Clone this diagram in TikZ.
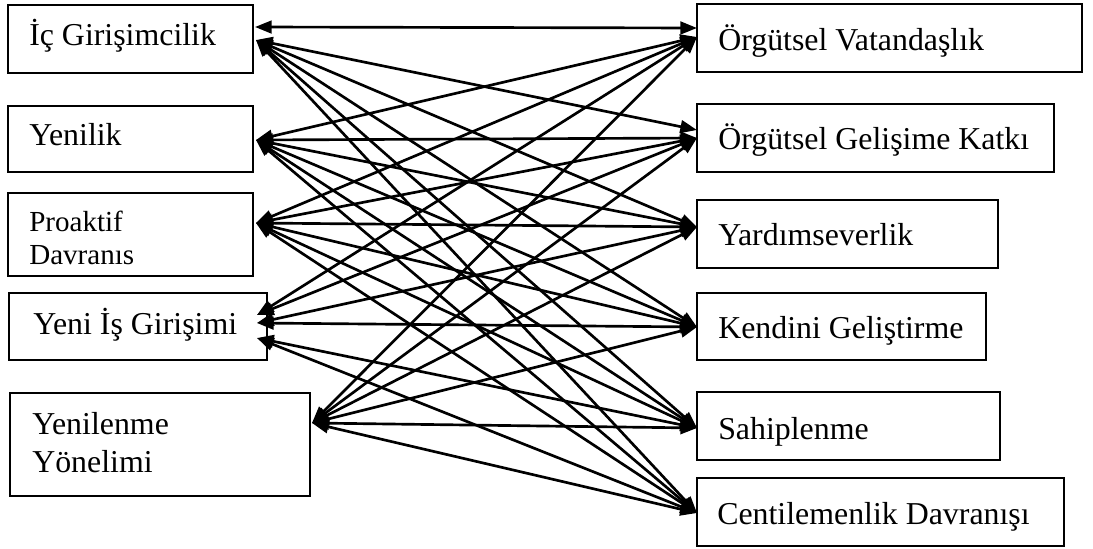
\documentclass[tikz,border=0pt]{standalone}
\usepackage{fontspec}
\setmainfont{Liberation Serif}
\usetikzlibrary{arrows.meta,fit}
\begin{document}
\begin{tikzpicture}[x=0.75pt,y=-0.75pt,
  box/.style={draw, line width=0.9pt, inner sep=0pt},
  txt/.style={anchor=base west, inner sep=0pt, font=\fontsize{23.9pt}{28pt}\selectfont},
  stxt/.style={anchor=base west, inner sep=0pt, font=\fontsize{21.8pt}{26pt}\selectfont},
  link/.style={line width=2pt, {Triangle[length=12.5pt,width=9.5pt]}-{Triangle[length=12.5pt,width=9.5pt]}}]
\useasboundingbox (0,0) rectangle (1093,549);

% left boxes
\node[box, fit={(8,5) (253,73)}] (l1) {};
\node[box, fit={(8,106) (253,172)}] (l2) {};
\node[box, fit={(8,193) (253,276)}] (l3) {};
\node[box, fit={(9,293) (267,360)}] (l4) {};
\node[box, fit={(10,393) (310,496)}] (l5) {};
% right boxes
\node[box, fit={(697,4) (1082,72)}] (r1) {};
\node[box, fit={(697,104) (1054,172)}] (r2) {};
\node[box, fit={(697,200) (998,268)}] (r3) {};
\node[box, fit={(697,293) (986,360)}] (r4) {};
\node[box, fit={(697,392) (1000,460)}] (r5) {};
\node[box, fit={(697,478) (1064,546)}] (r6) {};

% texts
\node[txt] (t1) at (29,46) {İç Girişimcilik};
\node[txt] (t2) at (29,146) {Yenilik};
\node[stxt] (t3a) at (29,232) {Proaktif};
\node[stxt] (t3b) at (29,264) {Davranıs};
\node[txt] (t4) at (33,334) {Yeni İş Girişimi};
\node[txt] (t5a) at (32,434) {Yenilenme};
\node[txt] (t5b) at (32,472) {Yönelimi};
\node[txt] (u1) at (718,51) {Örgütsel Vatandaşlık};
\node[txt] (u2) at (718,150) {Örgütsel Gelişime Katkı};
\node[txt] (u3) at (718,246) {Yardımseverlik};
\node[txt] (u4) at (718,338) {Kendini Geliştirme};
\node[txt] (u5) at (718,439) {Sahiplenme};
\node[txt] (u6) at (717,524) {Centilemenlik Davranışı};

% anchor points
\coordinate (a1h) at (255,27);
\coordinate (a1) at (256,40);
\coordinate (a2) at (256,140);
\coordinate (a3) at (256,223);
\coordinate (a4u) at (257,315);
\coordinate (a4) at (257,323);
\coordinate (a4d) at (257,338);
\coordinate (a5) at (312,423);
\coordinate (b1h) at (697,28);
\coordinate (b1) at (697,37);
\coordinate (b2u) at (697,130);
\coordinate (b2) at (697,138);
\coordinate (b3) at (697,227);
\coordinate (b4) at (697,327);
\coordinate (b5) at (697,428);
\coordinate (b6) at (697,513);

% connectors
\draw[link] (a1h) -- (b1h);
\draw[link] (a1) -- (b2u);
\draw[link] (a1) -- (b3);
\draw[link] (a1) -- (b4);
\draw[link] (a1) -- (b5);
\draw[link] (a1) -- (b6);

\draw[link] (a2) -- (b1);
\draw[link] (a2) -- (b2);
\draw[link] (a2) -- (b3);
\draw[link] (a2) -- (b4);
\draw[link] (a2) -- (b5);
\draw[link] (a2) -- (b6);

\draw[link] (a3) -- (b1);
\draw[link] (a3) -- (b2);
\draw[link] (a3) -- (b3);
\draw[link] (a3) -- (b4);
\draw[link] (a3) -- (b5);
\draw[link] (a3) -- (b6);

\draw[link] (a4u) -- (b1);
\draw[link] (a4u) -- (b2);
\draw[link] (a4) -- (b3);
\draw[link] (a4) -- (b4);
\draw[link] (a4d) -- (b5);
\draw[link] (a4d) -- (b6);

\draw[link] (a5) -- (b1);
\draw[link] (a5) -- (b2);
\draw[link] (a5) -- (b3);
\draw[link] (a5) -- (b4);
\draw[link] (a5) -- (b5);
\draw[link] (a5) -- (b6);
\end{tikzpicture}
\end{document}
